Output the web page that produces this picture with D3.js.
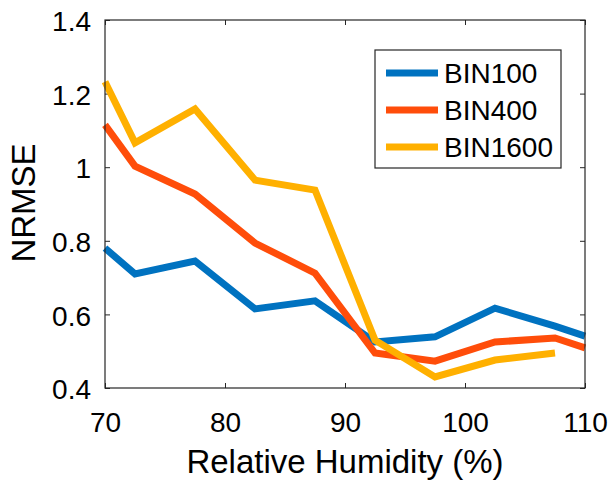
<!DOCTYPE html>
<meta charset="utf-8">
<style>
    body { margin: 0; background: #fff; }
    text { font-family: "Liberation Sans", Arial, sans-serif; fill: #000; }
    .frame { fill: none; stroke: #262626; stroke-width: 1.2px; }
    .series { fill: none; stroke-width: 7px; stroke-linejoin: miter; }
</style>
<svg width="611" height="482"></svg>
<script src="https://cdn.jsdelivr.net/npm/d3@7/dist/d3.min.js"></script>
<script>

    // relative humidity bins (%)
    var humidity = [70, 72.5, 77.5, 82.5, 87.5, 92.5, 97.5, 102.5, 107.5, 110];

    var bin100  = [0.78, 0.71, 0.745, 0.615, 0.637, 0.525, 0.539, 0.617, 0.568, 0.541];
    var bin400  = [1.115, 1.003, 0.927, 0.794, 0.712, 0.495, 0.473, 0.525, 0.536, 0.509];
    var bin1600 = [1.232, 1.066, 1.158, 0.965, 0.938, 0.53, 0.43, 0.476, 0.495];

    var seriesNames = ["BIN100", "BIN400", "BIN1600"];
    var seriesColors = ["#0072C0", "#FF4D0A", "#FFB000"];

    var xTicks = [70, 80, 90, 100, 110];
    var yTicks = [0.4, 0.6, 0.8, 1, 1.2, 1.4];

    const LEFT = 105, RIGHT = 585, TOP = 20, BOTTOM = 388;
    const TICK_LEN = 5;

    var svg = d3.select("svg");

    var x = d3.scaleLinear().domain([70, 110]).range([LEFT, RIGHT]);
    var y = d3.scaleLinear().domain([0.4, 1.4]).range([BOTTOM, TOP]);

    // inner ticks on all four sides, like matlab's box on
    svg.append("g")
        .attr("transform", "translate(0," + BOTTOM + ")")
        .call(d3.axisBottom(x).tickValues(xTicks).tickSizeInner(-TICK_LEN).tickSizeOuter(0)
            .tickFormat(d3.format("d")).tickPadding(24))
        .call(function (g) {
            g.select(".domain").remove();
            g.selectAll("line").attr("stroke", "#262626");
            g.selectAll("text").attr("font-size", 28).attr("fill", "#000")
                .attr("font-family", "'Liberation Sans', Arial, sans-serif");
        });

    svg.append("g")
        .attr("transform", "translate(0," + TOP + ")")
        .call(d3.axisTop(x).tickValues(xTicks).tickSizeInner(-TICK_LEN).tickSizeOuter(0).tickFormat(""))
        .call(function (g) {
            g.select(".domain").remove();
            g.selectAll("line").attr("stroke", "#262626");
        });

    svg.append("g")
        .attr("transform", "translate(" + LEFT + ",0)")
        .call(d3.axisLeft(y).tickValues(yTicks).tickSizeInner(-TICK_LEN).tickSizeOuter(0)
            .tickFormat(function (d) { return d3.format("")(d); }).tickPadding(14))
        .call(function (g) {
            g.select(".domain").remove();
            g.selectAll("line").attr("stroke", "#262626");
            g.selectAll("text").attr("font-size", 28).attr("fill", "#000")
                .attr("dy", "0.38em")
                .attr("font-family", "'Liberation Sans', Arial, sans-serif");
        });

    svg.append("g")
        .attr("transform", "translate(" + RIGHT + ",0)")
        .call(d3.axisRight(y).tickValues(yTicks).tickSizeInner(-TICK_LEN).tickSizeOuter(0).tickFormat(""))
        .call(function (g) {
            g.select(".domain").remove();
            g.selectAll("line").attr("stroke", "#262626");
        });

    var allSeries = [bin100, bin400, bin1600];

    var line = d3.line()
        .x(function (d, i) { return x(humidity[i]); })
        .y(function (d) { return y(d); });

    svg.append("g")
        .selectAll("path")
        .data(allSeries)
        .enter().append("path")
        .attr("class", "series")
        .attr("stroke", function (d, i) { return seriesColors[i]; })
        .attr("d", line);

    svg.append("rect")
        .attr("class", "frame")
        .attr("x", LEFT).attr("y", TOP)
        .attr("width", RIGHT - LEFT).attr("height", BOTTOM - TOP);

    // legend
    var legend = svg.append("g");
    legend.append("rect")
        .attr("x", 375).attr("y", 50)
        .attr("width", 186).attr("height", 118)
        .attr("fill", "#fff").attr("stroke", "#262626").attr("stroke-width", 1.2);

    var rows = legend.selectAll("g.row")
        .data(seriesNames)
        .enter().append("g")
        .attr("class", "row")
        .attr("transform", function (d, i) { return "translate(0," + (73 + i * 37) + ")"; });

    rows.append("line")
        .attr("x1", 386).attr("x2", 438)
        .attr("stroke-width", 7)
        .attr("stroke", function (d, i) { return seriesColors[i]; });

    rows.append("text")
        .attr("x", 444).attr("y", 10)
        .attr("font-size", 28)
        .text(function (d) { return d; });

    svg.append("text")
        .attr("x", (LEFT + RIGHT) / 2).attr("y", 473)
        .attr("text-anchor", "middle")
        .attr("font-size", 33)
        .text("Relative Humidity (%)");

    svg.append("text")
        .attr("transform", "translate(35," + 203 + ") rotate(-90)")
        .attr("text-anchor", "middle")
        .attr("font-size", 33)
        .text("NRMSE");

</script>
